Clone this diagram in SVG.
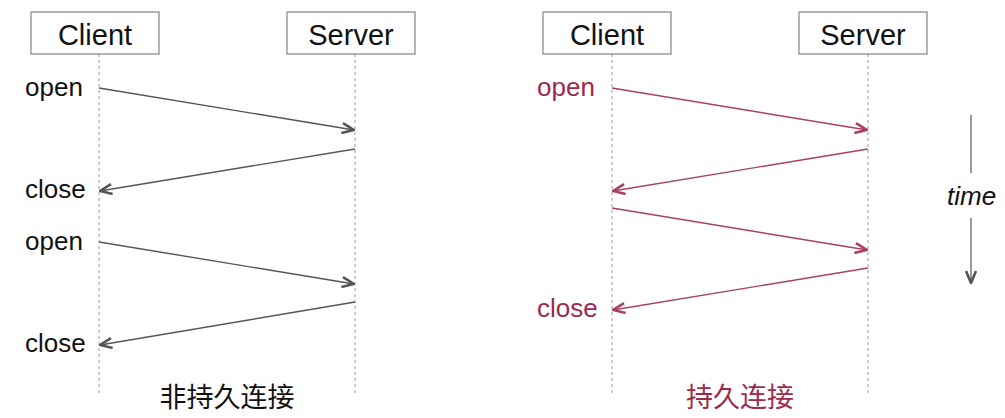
<svg xmlns="http://www.w3.org/2000/svg" width="1005" height="418" viewBox="0 0 1005 418">
<style>
.box{fill:#fff;stroke:#6b6b6b;stroke-width:1}
.hd{font-family:"Liberation Sans",Arial,sans-serif;font-size:29px;fill:#111;text-anchor:middle}
.lb{font-family:"Liberation Sans",Arial,sans-serif;font-size:26px}
.life{stroke:#9a9a9a;stroke-width:1;stroke-dasharray:3,3}
.g{stroke:#555;stroke-width:1.4;fill:none}
.r{stroke:#a9405f;stroke-width:1.4;fill:none}
.cap{font-family:"Liberation Sans","Noto Sans CJK SC",sans-serif;font-size:27px;text-anchor:middle}
</style>
<defs>
<marker id="ag" viewBox="0 0 14 12" refX="13" refY="6" markerWidth="14" markerHeight="12" markerUnits="userSpaceOnUse" orient="auto">
<path d="M1,1 L13,6 L1,11" fill="none" stroke="#555" stroke-width="2.6"/>
</marker>
<marker id="ar" viewBox="0 0 14 12" refX="13" refY="6" markerWidth="14" markerHeight="12" markerUnits="userSpaceOnUse" orient="auto">
<path d="M1,1 L13,6 L1,11" fill="none" stroke="#a9405f" stroke-width="2.6"/>
</marker>
</defs>
<g id="lifelines">
<line class="life" x1="99" y1="54" x2="99" y2="394"/>
<line class="life" x1="355" y1="54" x2="355" y2="394"/>
<line class="life" x1="612" y1="54" x2="612" y2="394"/>
<line class="life" x1="868" y1="54" x2="868" y2="394"/>
</g>
<g id="client-left"><rect class="box" x="31" y="12" width="128" height="42"/><text class="hd" x="95" y="45">Client</text></g>
<g id="server-left"><rect class="box" x="287" y="12" width="128" height="42"/><text class="hd" x="351" y="45">Server</text></g>
<g id="client-right"><rect class="box" x="543" y="12" width="128" height="42"/><text class="hd" x="607" y="45">Client</text></g>
<g id="server-right"><rect class="box" x="799" y="12" width="128" height="42"/><text class="hd" x="863" y="45">Server</text></g>
<g id="connectors">
<line class="g" x1="99" y1="88" x2="354" y2="130" marker-end="url(#ag)"/>
<line class="g" x1="355" y1="149" x2="100" y2="191" marker-end="url(#ag)"/>
<line class="g" x1="99" y1="242" x2="354" y2="284" marker-end="url(#ag)"/>
<line class="g" x1="355" y1="302" x2="100" y2="345" marker-end="url(#ag)"/>
<line class="r" x1="612" y1="88" x2="867" y2="130" marker-end="url(#ar)"/>
<line class="r" x1="868" y1="149" x2="613" y2="191" marker-end="url(#ar)"/>
<line class="r" x1="612" y1="208" x2="867" y2="250" marker-end="url(#ar)"/>
<line class="r" x1="868" y1="268" x2="613" y2="310" marker-end="url(#ar)"/>
<line x1="971" y1="115" x2="971" y2="173" stroke="#555" stroke-width="1.2"/>
<line x1="971" y1="218" x2="971" y2="283" stroke="#555" stroke-width="1.2" marker-end="url(#ag)"/>
</g>
<g id="labels">
<text class="lb" x="25" y="96" fill="#111">open</text>
<text class="lb" x="25" y="198" fill="#111">close</text>
<text class="lb" x="25" y="250" fill="#111">open</text>
<text class="lb" x="25" y="352" fill="#111">close</text>
<text class="lb" x="537" y="96" fill="#9b2a4c">open</text>
<text class="lb" x="537" y="317" fill="#9b2a4c">close</text>
<text class="lb" x="947" y="205" fill="#111" font-style="italic">time</text>
<text class="cap" x="227" y="407" fill="#111">非持久连接</text>
<text class="cap" x="740" y="407" fill="#9b2a4c">持久连接</text>
</g>
</svg>
